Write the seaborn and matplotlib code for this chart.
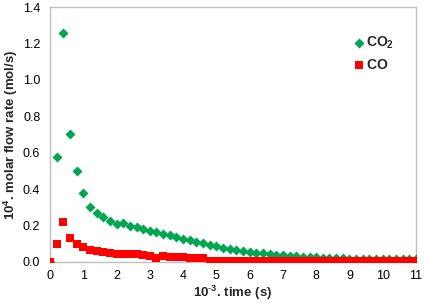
import numpy as np
import pandas as pd
import matplotlib
matplotlib.use("Agg")
import matplotlib.pyplot as plt
import seaborn as sns

time = [0.0, 0.2, 0.4, 0.6, 0.8, 1.0, 1.2, 1.4, 1.6, 1.8, 2.0, 2.2, 2.4, 2.6, 2.8,
        3.0, 3.2, 3.4, 3.6, 3.8, 4.0, 4.2, 4.4, 4.6, 4.8, 5.0, 5.2, 5.4, 5.6, 5.8,
        6.0, 6.2, 6.4, 6.6, 6.8, 7.0, 7.2, 7.4, 7.6, 7.8, 8.0, 8.2, 8.4, 8.6, 8.8,
        9.0, 9.2, 9.4, 9.6, 9.8, 10.0, 10.2, 10.4, 10.6, 10.8, 11.0]
co2 = [0.0, 0.575, 1.26, 0.705, 0.50, 0.377, 0.30, 0.27, 0.249, 0.225, 0.207, 0.212,
       0.198, 0.19, 0.183, 0.172, 0.163, 0.155, 0.146, 0.137, 0.128, 0.12, 0.111,
       0.102, 0.094, 0.086, 0.079, 0.073, 0.067, 0.061, 0.056, 0.051, 0.047, 0.043,
       0.040, 0.037, 0.034, 0.031, 0.029, 0.027, 0.025, 0.023, 0.022, 0.021, 0.020,
       0.019, 0.018, 0.018, 0.017, 0.017, 0.016, 0.016, 0.015, 0.015, 0.015, 0.015]
co = [0.0, 0.098, 0.217, 0.13, 0.098, 0.084, 0.067, 0.062, 0.056, 0.049, 0.044, 0.043,
      0.044, 0.042, 0.039, 0.035, 0.022, 0.032, 0.030, 0.028, 0.026, 0.024, 0.022,
      0.02, 0.004, 0.004, 0.004, 0.004, 0.004, 0.004, 0.004, 0.004, 0.004, 0.004,
      0.004, 0.004, 0.004, 0.004, 0.004, 0.004, 0.004, 0.004, 0.004, 0.004, 0.004,
      0.004, 0.004, 0.004, 0.004, 0.004, 0.004, 0.004, 0.004, 0.004, 0.004, 0.004]

df = pd.DataFrame({"time": time, "CO2": co2, "CO": co})

sns.set_style("white")
plt.rcParams["font.family"] = ["Liberation Sans", "DejaVu Sans"]
plt.rcParams["mathtext.fontset"] = "custom"
plt.rcParams["mathtext.rm"] = "Liberation Sans"
plt.rcParams["mathtext.bf"] = "Liberation Sans:bold"

fig = plt.figure(figsize=(4.27, 3.05), dpi=100)
ax = fig.add_axes([50/427, 1-262/305, 366/427, 255/305])

sns.scatterplot(data=df, x="time", y="CO2", ax=ax, marker="D", s=26, color="#00A651",
                linewidth=0, label=r"$\mathbf{CO_2}$", zorder=3)
sns.scatterplot(data=df, x="time", y="CO", ax=ax, marker="s", s=28, color="#FF0000",
                linewidth=0, label=r"$\mathbf{CO}$", zorder=4)

ax.set_xlim(0, 11)
ax.set_ylim(0, 1.4)
ax.set_xticks(range(0, 12))
ax.set_yticks(np.arange(0, 1.41, 0.2))
ax.set_yticklabels([f"{v:.1f}" for v in np.arange(0, 1.41, 0.2)])
ax.tick_params(axis="both", labelsize=9, colors="#000000", direction="in",
               length=3, width=0.8, color="#BFBFBF")
ax.tick_params(axis="y", pad=7)
ax.tick_params(axis="x", pad=6)
for sp in ax.spines.values():
    sp.set_color("#BFBFBF")
    sp.set_linewidth(1.0)

ax.set_xlabel(r"$\mathbf{10^{\text{-}3}}$. time (s)", fontsize=9.5, fontweight="bold", labelpad=1)
ax.set_ylabel(r"$\mathbf{10^{4}}$. molar flow rate (mol/s)", fontsize=9.5, fontweight="bold", labelpad=2)

leg = ax.legend(loc="upper right", bbox_to_anchor=(0.975, 0.94), frameon=False,
                fontsize=10, handletextpad=0.05, labelspacing=0.5, handlelength=1.0,
                markerscale=1.0)

fig.savefig("out.png", dpi=100)
